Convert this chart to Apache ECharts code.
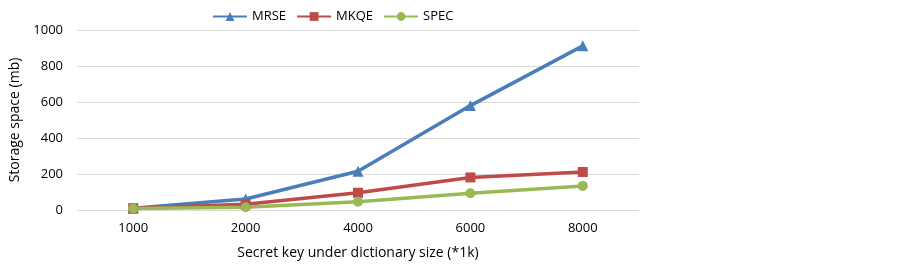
<!DOCTYPE html>
<html>
<head>
<meta charset="utf-8">
<script src="https://cdn.jsdelivr.net/npm/echarts@6/dist/echarts.min.js"></script>
<style>
  html, body { margin: 0; padding: 0; background: #fff; }
  #main { width: 903px; height: 268px; }
</style>
</head>
<body>
<div id="main"></div>
<script>
var keySizes = ['1000', '2000', '4000', '6000', '8000'];
var mrseData = [10, 61, 215, 580, 912];
var mkqeData = [10, 32, 96, 181, 211];
var specData = [8, 15, 46, 93, 134];

var chart = echarts.init(document.getElementById('main'));

var font = 'Open Sans, Noto Sans, sans-serif';

var option = {
    animation: false,
    backgroundColor: '#ffffff',
    legend: {
        top: 5,
        left: 207,
        itemWidth: 34,
        itemHeight: 11,
        itemGap: 10,
        textStyle: { fontFamily: font, fontSize: 13, color: '#000' },
        data: ['MRSE', 'MKQE', 'SPEC']
    },
    grid: {
        left: 77,
        right: 264,
        top: 30,
        bottom: 58
    },
    xAxis: {
        type: 'category',
        data: keySizes,
        boundaryGap: true,
        name: 'Secret key under dictionary size (*1k)',
        nameLocation: 'middle',
        nameGap: 36,
        nameTextStyle: { fontFamily: font, fontSize: 14, color: '#000' },
        axisLine: { show: false },
        axisTick: { show: false },
        axisLabel: { fontFamily: font, fontSize: 13, color: '#000', margin: 12 }
    },
    yAxis: {
        type: 'value',
        min: 0,
        max: 1000,
        interval: 200,
        name: 'Storage space (mb)',
        nameLocation: 'middle',
        nameGap: 43,
        nameTextStyle: { fontFamily: font, fontSize: 14, color: '#000' },
        axisLine: { show: false },
        axisTick: { show: false },
        axisLabel: {
            fontFamily: font, fontSize: 13, color: '#000', margin: 14,
            formatter: function (v) { return String(v); }
        },
        splitLine: { lineStyle: { color: '#d9d9d9', width: 1 } }
    },
    series: [
        {
            name: 'MRSE',
            type: 'line',
            data: mrseData,
            symbol: 'triangle',
            symbolSize: 11,
            lineStyle: { color: '#4a7ebb', width: 3.5 },
            itemStyle: { color: '#4a7ebb' }
        },
        {
            name: 'MKQE',
            type: 'line',
            data: mkqeData,
            symbol: 'rect',
            symbolSize: 10,
            lineStyle: { color: '#be4b48', width: 3.5 },
            itemStyle: { color: '#be4b48' }
        },
        {
            name: 'SPEC',
            type: 'line',
            data: specData,
            symbol: 'circle',
            symbolSize: 10,
            lineStyle: { color: '#98b954', width: 3.5 },
            itemStyle: { color: '#98b954' }
        }
    ]
};

chart.setOption(option);
</script>
</body>
</html>
